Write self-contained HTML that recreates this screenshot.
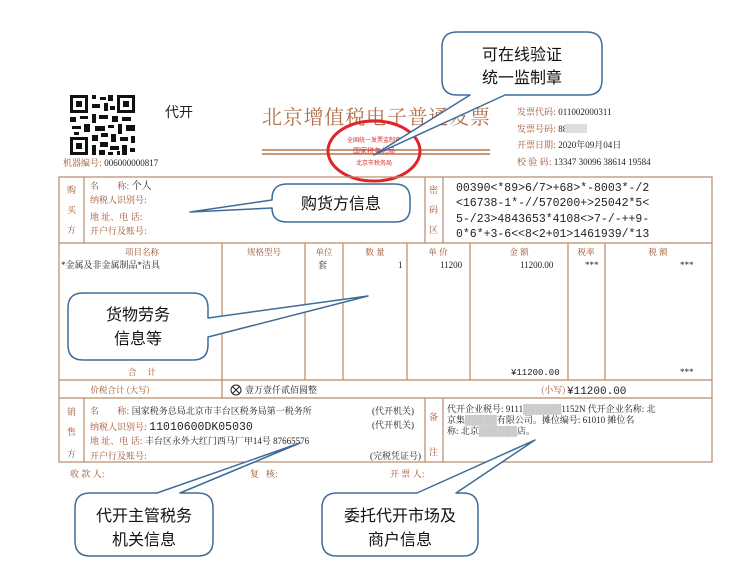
<!DOCTYPE html>
<html><head><meta charset="utf-8"><style>
html,body{margin:0;padding:0;background:#fff;}
svg{display:block;}
.b{fill:#a0522d;font-family:"Noto Serif CJK SC","Liberation Serif",serif;}
.k{fill:#222;font-family:"Liberation Serif","Noto Serif CJK SC",serif;}
.m{fill:#222;font-family:"Liberation Mono","DejaVu Sans Mono",monospace;}
.c{fill:#111;font-family:"Liberation Sans","Noto Sans CJK SC",sans-serif;font-size:16px;text-anchor:middle;}
</style></head><body>
<svg width="742" height="575" viewBox="0 0 742 575" xmlns="http://www.w3.org/2000/svg">
<rect width="742" height="575" fill="#fff"/>
<g fill="#111">
<rect x="70" y="95" width="65" height="60" fill="#fff"/>
<rect x="70" y="95" width="18" height="18"/><rect x="73" y="98" width="12" height="12" fill="#fff"/><rect x="76" y="101" width="6" height="6"/>
<rect x="117" y="95" width="18" height="18"/><rect x="120" y="98" width="12" height="12" fill="#fff"/><rect x="123" y="101" width="6" height="6"/>
<rect x="70" y="137" width="18" height="18"/><rect x="73" y="140" width="12" height="12" fill="#fff"/><rect x="76" y="143" width="6" height="6"/>
<path d="M92 95h4v4h-4zM100 97h6v3h-6zM108 95h5v6h-5zM92 104h8v4h-8zM104 103h4v8h-4zM110 106h5v4h-5zM70 117h6v5h-6zM80 116h8v3h-8zM92 114h4v9h-4zM99 115h9v4h-9zM112 116h6v6h-6zM122 117h9v4h-9zM72 126h9v3h-9zM84 124h6v8h-6zM95 126h10v5h-10zM108 125h6v3h-6zM118 124h4v10h-4zM126 125h9v6h-9zM74 132h5v3h-5zM92 135h6v6h-6zM101 133h7v4h-7zM111 134h5v8h-5zM120 137h8v4h-8zM131 136h4v7h-4zM92 145h4v10h-4zM100 142h8v5h-8zM99 150h6v5h-6zM110 146h9v4h-9zM108 152h5v3h-5zM122 145h5v10h-5zM130 148h5v4h-5zM117 151h3v4h-3z"/>
</g>
<text x="165" y="117" class="k" font-size="14" style="font-family:'Noto Sans CJK SC',sans-serif">代开</text>
<text x="63" y="166" class="b" font-size="9">机器编号: <tspan class="k" font-size="9">006000000817</tspan></text>
<text x="262" y="124" class="b" font-size="20" textLength="228" style="fill:#b5704a">北京增值税电子普通发票</text>
<line x1="262" y1="150" x2="490" y2="150" stroke="#b07a55" stroke-width="1.5"/>
<line x1="262" y1="154" x2="490" y2="154" stroke="#b07a55" stroke-width="1.5"/>
<ellipse cx="374" cy="151" rx="46" ry="30" fill="none" stroke="#e0242a" stroke-width="3"/>
<text x="374" y="142" font-size="6" fill="#d33" text-anchor="middle">全国统一发票监制章</text>
<text x="374" y="153" font-size="7" fill="#d33" text-anchor="middle">国家税务总局</text>
<text x="374" y="165" font-size="6" fill="#d33" text-anchor="middle">北京市税务局</text>
<g font-size="9">
<text x="517" y="115" class="b">发票代码: <tspan class="k">011002000311</tspan></text>
<text x="517" y="132" class="b">发票号码: <tspan class="k">8893</tspan></text>
<rect x="565" y="124" width="22" height="9" fill="#ddd"/>
<text x="517" y="148" class="b">开票日期: <tspan class="k">2020年09月04日</tspan></text>
<text x="517" y="165" class="b">校 验 码: <tspan class="k">13347 30096 38614 19584</tspan></text>
</g>
<g fill="none" stroke="#b88a6a" stroke-width="1.2">
<rect x="59" y="177" width="653" height="285"/>
<line x1="59" y1="243" x2="712" y2="243"/>
<line x1="59" y1="380" x2="712" y2="380"/>
<line x1="59" y1="398" x2="712" y2="398"/>
<line x1="84" y1="177" x2="84" y2="243"/>
<line x1="425" y1="177" x2="425" y2="243"/><line x1="443" y1="177" x2="443" y2="243"/>
<line x1="84" y1="398" x2="84" y2="462"/>
<line x1="425" y1="398" x2="425" y2="462"/><line x1="443" y1="398" x2="443" y2="462"/>
<line x1="222" y1="243" x2="222" y2="398"/>
<line x1="305" y1="243" x2="305" y2="380"/><line x1="343" y1="243" x2="343" y2="380"/>
<line x1="407" y1="243" x2="407" y2="380"/><line x1="470" y1="243" x2="470" y2="380"/>
<line x1="568" y1="243" x2="568" y2="380"/><line x1="605" y1="243" x2="605" y2="380"/>
</g>
<g font-size="9" class="b">
<text x="67" y="193" class="b">购</text><text x="67" y="213" class="b">买</text><text x="67" y="233" class="b">方</text>
<text x="90" y="189" class="b">名&#160;&#160;&#160;&#160;&#160;&#160;&#160;&#160;称: <tspan class="k" font-size="10">个人</tspan></text>
<text x="90" y="203" class="b">纳税人识别号:</text>
<text x="90" y="220" class="b">地 址、电 话:</text>
<text x="90" y="234" class="b">开户行及账号:</text>
<text x="429" y="193" class="b">密</text><text x="429" y="213" class="b">码</text><text x="429" y="233" class="b">区</text>
<text x="67" y="415" class="b">销</text><text x="67" y="435" class="b">售</text><text x="67" y="457" class="b">方</text>
<text x="429" y="420" class="b">备</text><text x="429" y="455" class="b">注</text>
</g>
<g class="m" font-size="11.5">
<text x="456" y="191">00390&lt;*89&gt;6/7&gt;+68&gt;*-8003*-/2</text>
<text x="456" y="206">&lt;16738-1*-//570200+&gt;25042*5&lt;</text>
<text x="456" y="222">5-/23&gt;4843653*4108&lt;&gt;7-/-++9-</text>
<text x="456" y="237">0*6*+3-6&lt;&lt;8&lt;2+01&gt;1461939/*13</text>
</g>
<g font-size="8.5" class="b" text-anchor="middle">
<text x="142" y="255">项目名称</text><text x="264" y="255">规格型号</text><text x="324" y="255">单位</text>
<text x="375" y="255">数 量</text><text x="438" y="255">单 价</text><text x="519" y="255">金 额</text>
<text x="586" y="255">税率</text><text x="658" y="255">税 额</text>
<text x="142" y="375">合&#160;&#160;&#160;&#160;&#160;计</text>
<text x="120" y="393">价税合计 (大写)</text>
</g>
<g font-size="9" class="k">
<text x="61" y="268">*金属及非金属制品*洁具</text>
<text x="318" y="268">套</text><text x="398" y="268">1</text><text x="440" y="268">11200</text>
<text x="520" y="268">11200.00</text><text x="585" y="268">***</text><text x="680" y="268">***</text>
<text x="511" y="375" class="m" font-size="9">¥11200.00</text><text x="680" y="375">***</text>
<circle cx="236" cy="390" r="5" fill="none" stroke="#222"/><path d="M232.5 386.5l7 7M239.5 386.5l-7 7" stroke="#222"/>
<text x="245" y="393">壹万壹仟贰佰圆整</text>
<text x="541" y="393" class="b" font-size="9">(小写)</text><text x="567" y="394" class="m" font-size="11">¥11200.00</text>
</g>
<g font-size="9">
<text x="90" y="414" class="b">名&#160;&#160;&#160;&#160;&#160;&#160;&#160;&#160;称: <tspan class="k">国家税务总局北京市丰台区税务局第一税务所</tspan></text>
<text x="372" y="414" class="k">(代开机关)</text>
<text x="90" y="430" class="b">纳税人识别号: <tspan class="m" font-size="11.5">11010600DK05030</tspan></text>
<text x="372" y="428" class="k">(代开机关)</text>
<text x="90" y="444" class="b">地 址、电 话: <tspan class="k">丰台区永外大红门西马厂甲14号 87665576</tspan></text>
<text x="90" y="459" class="b">开户行及账号:</text>
<text x="370" y="459" class="k">(完税凭证号)</text>
<text x="447" y="412" class="k">代开企业税号: 9111<tspan fill="#ccc">██████</tspan>1152N 代开企业名称: 北</text>
<text x="447" y="423" class="k">京集<tspan fill="#ccc">█████</tspan>有限公司。摊位编号: 61010 摊位名</text>
<text x="447" y="434" class="k">称: 北京<tspan fill="#ccc">██████</tspan>店。</text>
<text x="70" y="477" class="b">收 款 人:</text><text x="250" y="477" class="b">复&#160;&#160;&#160;核:</text><text x="390" y="477" class="b">开 票 人:</text>
</g>
<g fill="#fff" stroke="#3d6c9a" stroke-width="1.5" stroke-linejoin="round">
<path d="M457 32H587Q602 32 602 47V80Q602 95 587 95H505L374 155L470 95H457Q442 95 442 80V47Q442 32 457 32Z"/>
<path d="M287 184H395Q410 184 410 199V208Q410 222 395 222H287Q272 222 272 208V208L190 212L272 200V199Q272 184 287 184Z"/>
<path d="M83 293H193Q208 293 208 308V318L368 296L208 337V345Q208 360 193 360H83Q68 360 68 345V308Q68 293 83 293Z"/>
<path d="M90 493H157L300 443L180 493H198Q213 493 213 508V541Q213 556 198 556H90Q75 556 75 541V508Q75 493 90 493Z"/>
<path d="M337 493H417L535 440L456 493H463Q478 493 478 508V541Q478 556 463 556H337Q322 556 322 541V508Q322 493 337 493Z"/>
</g>
<text x="522" y="60" class="c">可在线验证</text>
<text x="522" y="83" class="c">统一监制章</text>
<text x="341" y="209" class="c">购货方信息</text>
<text x="138" y="320" class="c">货物劳务</text>
<text x="138" y="344" class="c">信息等</text>
<text x="144" y="521" class="c">代开主管税务</text>
<text x="144" y="545" class="c">机关信息</text>
<text x="400" y="521" class="c">委托代开市场及</text>
<text x="400" y="545" class="c">商户信息</text>
</svg>
</body></html>
